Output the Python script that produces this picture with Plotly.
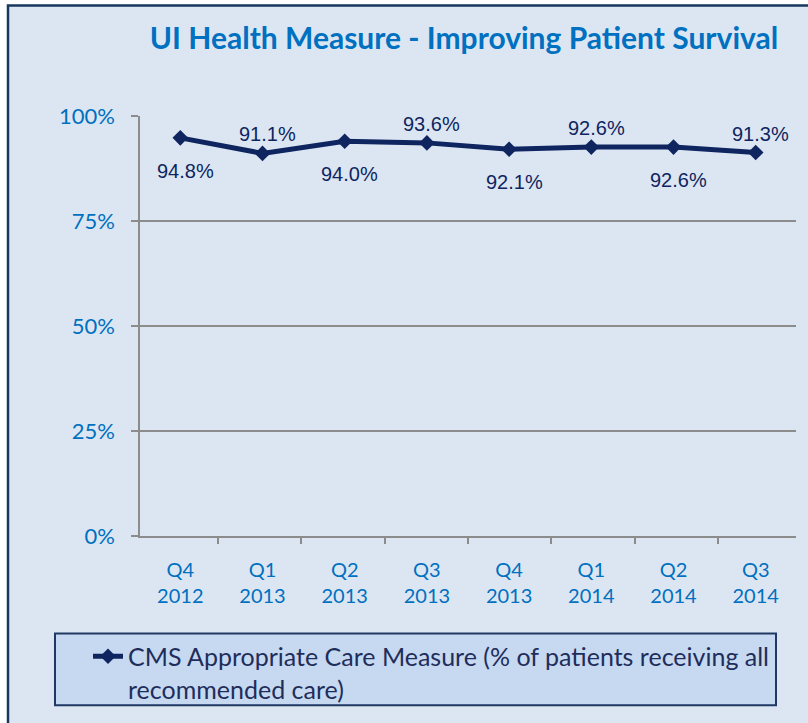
import plotly.graph_objects as go

# chart data
quarters = ["Q4<br>2012", "Q1<br>2013", "Q2<br>2013", "Q3<br>2013",
            "Q4<br>2013", "Q1<br>2014", "Q2<br>2014", "Q3<br>2014"]
care_pct = [94.8, 91.1, 94.0, 93.6, 92.1, 92.6, 92.6, 91.3]
y_ticks = [0, 25, 50, 75, 100]
y_tick_text = ["0%", "25%", "50%", "75%", "100%"]
series_name = "CMS Appropriate Care Measure (% of patients receiving all<br>recommended care)"
title_text = "UI Health Measure - Improving Patient Survival"

NAVY = "#0E2560"
BLUE = "#0070C0"
GRID = "#8C8C8C"
W, H = 808, 723
L, R, T, B = 140, 12, 116, 185
pw, ph = W - L - R, H - T - B


def px_x(px):
    return (px - L) / pw


def px_y(py):
    return (H - B - py) / ph


fig = go.Figure()
fig.add_trace(go.Scatter(
    x=quarters, y=care_pct, name=series_name,
    mode="lines+markers",
    line=dict(color=NAVY, width=5),
    marker=dict(symbol="diamond", size=12, color=NAVY),
))
# invisible copy on an overlaid axis, only used to draw the boundary ticks
fig.add_trace(go.Scatter(
    x=quarters, y=care_pct, xaxis="x2", mode="markers",
    marker=dict(opacity=0), showlegend=False, hoverinfo="skip",
))

# data labels alternate below / above the points
for i, (q, v) in enumerate(zip(quarters, care_pct)):
    below = i % 2 == 0
    fig.add_annotation(
        x=q, y=v, text=f"{v:.1f}%", showarrow=False,
        xshift=5, yshift=-33 if below else 19,
        font=dict(family="Liberation Sans, Arial, sans-serif", size=20, color=NAVY),
    )

# outer page box
fig.add_shape(type="rect", xref="paper", yref="paper", layer="below",
              x0=px_x(8), x1=px_x(W + 20), y0=px_y(H + 20), y1=px_y(5),
              fillcolor="#DCE6F2", line=dict(color="#17375E", width=2.5))
# legend box
fig.add_shape(type="rect", xref="paper", yref="paper", layer="below",
              x0=px_x(55), x1=px_x(776), y0=px_y(708), y1=px_y(636),
              fillcolor="#C6D9F1", line=dict(color="#1F3864", width=2))

fig.update_layout(
    width=W, height=H,
    margin=dict(l=L, r=R, t=T, b=B),
    paper_bgcolor="white",
    plot_bgcolor="rgba(0,0,0,0)",
    font=dict(family="Lato, Open Sans, sans-serif"),
    title=dict(text=f"<b>{title_text}</b>", xref="paper", x=px_x(464), xanchor="center",
               y=1 - 38 / H, yanchor="middle",
               font=dict(family="Lato, Open Sans, sans-serif", size=30, color=BLUE)),
    showlegend=True,
    legend=dict(x=px_x(88), xanchor="left", y=px_y(636), yanchor="top",
                bgcolor="rgba(0,0,0,0)", borderwidth=0, valign="top",
                font=dict(family="Lato, Open Sans, sans-serif", size=25, color="#1F2D5A")),
    xaxis=dict(
        type="category", ticks="", ticklabelstandoff=15,
        showline=True, linecolor=GRID, linewidth=1.5, showgrid=False, zeroline=False,
        tickfont=dict(size=20, color=BLUE),
    ),
    xaxis2=dict(
        overlaying="x", anchor="y", side="bottom", type="category",
        tickson="boundaries", ticks="outside", ticklen=7,
        tickcolor=GRID, tickwidth=1.5, showticklabels=False,
        showgrid=False, showline=False, zeroline=False,
    ),
    yaxis=dict(
        range=[0, 100], tickvals=y_ticks, ticktext=y_tick_text,
        ticks="outside", ticklen=7, tickcolor=GRID, tickwidth=1.5, ticklabelstandoff=12,
        showline=True, linecolor=GRID, linewidth=1.5,
        showgrid=True, gridcolor=GRID, gridwidth=1.5, zeroline=False,
        tickfont=dict(size=22, color=BLUE),
    ),
)

# drop the browser's default body margin so the figure sits at the page corner
fig.write_html("out.html", config={"displayModeBar": False},
               post_script="document.body.style.margin='0';")
